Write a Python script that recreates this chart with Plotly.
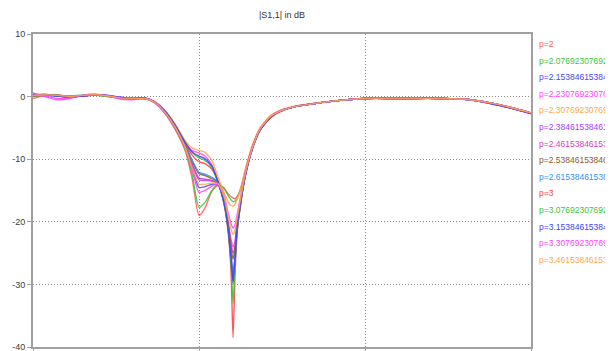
import plotly.graph_objects as go

# x positions (data units, 0..3)
X = [0.0, 0.072, 0.145, 0.223, 0.295, 0.373, 0.452, 0.524, 0.602, 0.675,
     0.735, 0.795, 0.855, 0.916, 0.958,
     1.0, 1.036, 1.078, 1.114, 1.151, 1.175, 1.193, 1.205, 1.217, 1.229,
     1.247, 1.271, 1.295, 1.325, 1.367, 1.428, 1.488, 1.578, 1.699, 1.849,
     2.0, 2.211, 2.452, 2.633, 2.753, 2.873, 3.0]

y_ticks = [10, 0, -10, -20, -30, -40]
y_tick_labels = ["10", "0", "-10", "-20", "-30", "-40"]

labels = ["p=2", "p=2.07692307692308", "p=2.15384615384615", "p=2.23076923076923",
          "p=2.30769230769231", "p=2.38461538461538", "p=2.46153846153846",
          "p=2.53846153846154", "p=2.61538461538462", "p=3", "p=3.07692307692308",
          "p=3.15384615384615", "p=3.30769230769231", "p=3.46153846153846"]

colors = ["#ff5a5a", "#3cc43c", "#4646ff", "#ff40ff", "#ffa84a", "#a040ff",
          "#d83cc0", "#8b5a2b", "#3092ff", "#ff3c3c", "#3cc43c", "#4040ff",
          "#ff40ff", "#ffa84a"]

s0 = [-0.3, 0.2, 0.3, 0.0, 0.1, 0.3, 0.1, -0.2, -0.3, -0.3, -1.0, -2.7, -5.2, -8.6, -13.0,
      -19.0, -17.8, -15.1, -14.2, -14.7, -15.5, -16.0, -16.2, -16.3, -16.0,
      -15.0, -12.6, -10.2, -7.7, -5.2, -3.3, -2.4, -1.6, -1.1, -0.6, -0.3, -0.3, -0.3, -0.5, -1.0, -1.8, -2.7]
s1 = [0.1, 0.3, 0.2, 0.1, 0.2, 0.3, 0.0, -0.2, -0.4, -0.3, -1.0, -2.6, -5.0, -8.3, -12.3,
      -17.7, -16.9, -15.0, -14.0, -14.6, -15.8, -16.5, -16.8, -16.7, -16.2,
      -15.1, -12.9, -10.6, -8.0, -5.4, -3.4, -2.4, -1.6, -1.1, -0.6, -0.3, -0.3, -0.3, -0.5, -1.0, -1.7, -2.6]
s2 = [0.3, 0.4, 0.1, -0.1, 0.1, 0.3, 0.2, -0.1, -0.3, -0.2, -0.9, -2.5, -4.8, -7.9, -11.2,
      -14.5, -14.4, -14.0, -14.1, -16.8, -20.5, -25.0, -29.0, -25.5, -21.0,
      -17.6, -13.5, -10.6, -7.9, -5.3, -3.3, -2.3, -1.6, -1.1, -0.6, -0.3, -0.3, -0.3, -0.5, -1.1, -1.8, -2.7]
s3 = [0.6, 0.0, -0.5, -0.3, 0.2, 0.4, 0.1, -0.4, -0.5, -0.3, -0.8, -2.3, -4.5, -7.3, -8.6,
      -9.0, -9.5, -10.9, -13.5, -16.9, -20.0, -22.8, -24.0, -23.0, -20.0,
      -17.2, -13.4, -10.5, -7.8, -5.2, -3.2, -2.3, -1.6, -1.1, -0.6, -0.3, -0.3, -0.3, -0.5, -1.0, -1.7, -2.6]
s4 = [0.2, 0.3, 0.2, 0.0, 0.2, 0.3, 0.1, -0.2, -0.3, -0.3, -0.8, -2.2, -4.3, -7.0, -8.2,
      -8.6, -8.9, -10.2, -12.8, -15.3, -16.8, -17.4, -17.5, -17.2, -16.5,
      -15.2, -12.5, -10.0, -7.5, -5.0, -3.1, -2.2, -1.5, -1.0, -0.6, -0.3, -0.3, -0.3, -0.5, -1.0, -1.7, -2.6]
s5 = [0.2, 0.2, 0.1, 0.0, 0.2, 0.3, 0.1, -0.2, -0.3, -0.3, -0.9, -2.5, -4.8, -7.8, -10.7,
      -13.0, -13.2, -13.4, -13.9, -16.8, -21.0, -26.5, -30.0, -26.0, -21.5,
      -17.8, -13.7, -10.8, -8.0, -5.4, -3.4, -2.4, -1.6, -1.1, -0.6, -0.3, -0.3, -0.3, -0.5, -1.0, -1.8, -2.7]
s6 = [0.1, 0.3, 0.2, 0.0, 0.1, 0.3, 0.1, -0.2, -0.3, -0.3, -0.9, -2.5, -4.8, -7.9, -10.9,
      -13.3, -13.4, -13.5, -13.8, -16.5, -20.0, -23.5, -25.0, -23.8, -20.5,
      -17.4, -13.4, -10.6, -7.9, -5.3, -3.3, -2.3, -1.6, -1.1, -0.6, -0.3, -0.3, -0.3, -0.5, -1.0, -1.7, -2.6]
s7 = [0.2, 0.2, 0.2, 0.0, 0.1, 0.2, 0.1, -0.2, -0.3, -0.3, -0.9, -2.4, -4.7, -7.7, -10.3,
      -12.3, -12.6, -13.1, -13.7, -16.4, -20.3, -24.0, -26.0, -24.2, -20.8,
      -17.5, -13.5, -10.6, -7.9, -5.3, -3.3, -2.3, -1.6, -1.1, -0.6, -0.3, -0.3, -0.3, -0.5, -1.0, -1.7, -2.6]
s8 = [0.2, 0.3, 0.1, 0.0, 0.2, 0.3, 0.1, -0.2, -0.3, -0.3, -0.9, -2.4, -4.7, -7.6, -10.1,
      -12.1, -12.4, -12.9, -13.6, -16.5, -20.8, -25.5, -28.0, -25.8, -21.3,
      -17.7, -13.7, -10.7, -8.0, -5.3, -3.3, -2.3, -1.6, -1.1, -0.6, -0.3, -0.3, -0.3, -0.5, -1.0, -1.7, -2.6]
s9 = [0.0, 0.2, 0.2, 0.0, 0.1, 0.3, 0.1, -0.2, -0.3, -0.3, -0.9, -2.4, -4.6, -7.5, -9.3,
      -10.4, -10.7, -11.6, -13.6, -17.2, -21.5, -28.0, -38.5, -28.5, -22.0,
      -17.9, -13.8, -10.8, -8.0, -5.4, -3.4, -2.4, -1.6, -1.1, -0.6, -0.3, -0.3, -0.3, -0.5, -1.0, -1.8, -2.7]
s10 = [0.1, 0.2, 0.2, 0.1, 0.2, 0.3, 0.0, -0.2, -0.3, -0.3, -0.9, -2.3, -4.5, -7.3, -8.9,
       -9.8, -10.2, -11.3, -13.6, -17.0, -21.0, -26.5, -33.0, -27.0, -21.5,
       -17.7, -13.6, -10.7, -8.0, -5.3, -3.3, -2.3, -1.6, -1.1, -0.6, -0.3, -0.3, -0.3, -0.5, -1.0, -1.7, -2.6]
s11 = [0.3, 0.3, 0.1, -0.1, 0.1, 0.3, 0.2, -0.1, -0.3, -0.2, -0.9, -2.3, -4.5, -7.3, -8.8,
       -9.5, -9.9, -11.1, -13.6, -17.0, -21.0, -25.8, -29.5, -26.0, -21.2,
       -17.6, -13.6, -10.7, -8.0, -5.3, -3.3, -2.3, -1.6, -1.1, -0.6, -0.3, -0.3, -0.3, -0.5, -1.1, -1.8, -2.7]
s12 = [0.5, 0.1, -0.3, -0.2, 0.2, 0.4, 0.1, -0.3, -0.4, -0.3, -1.0, -2.6, -4.9, -8.1, -11.6,
       -15.3, -15.0, -14.3, -14.0, -15.8, -18.5, -20.3, -21.0, -20.5, -19.0,
       -16.5, -13.1, -10.4, -7.8, -5.2, -3.2, -2.3, -1.6, -1.1, -0.6, -0.3, -0.3, -0.3, -0.5, -1.0, -1.7, -2.6]
s13 = [0.2, 0.3, 0.2, 0.0, 0.2, 0.3, 0.1, -0.2, -0.3, -0.3, -0.9, -2.5, -4.8, -8.0, -11.3,
       -14.0, -14.0, -13.8, -13.9, -16.0, -19.0, -21.2, -22.0, -21.3, -19.5,
       -16.8, -13.2, -10.5, -7.9, -5.2, -3.2, -2.3, -1.6, -1.1, -0.6, -0.3, -0.3, -0.3, -0.5, -1.0, -1.7, -2.6]

series = [s0, s1, s2, s3, s4, s5, s6, s7, s8, s9, s10, s11, s12, s13]

# page has an 8px body margin: compensate so the plot lands at page px 33..531 x 34..347
OFF = 8
W, H = 613 - OFF, 351 - OFF
L, R, T, B = 33 - OFF, 531 - OFF, 34 - OFF, 347 - OFF

fig = go.Figure()
for lab, col, ys in zip(labels, colors, series):
    fig.add_trace(go.Scatter(x=X, y=ys, mode="lines", name=lab,
                             line=dict(color=col, width=1.4, shape="spline", smoothing=0.6),
                             opacity=0.85, hoverinfo="skip", showlegend=False))

# legend-like colored labels on the right
for i, (lab, col) in enumerate(zip(labels, colors)):
    py = 44 + i * 16.6 - OFF
    fig.add_annotation(text=lab, xref="paper", yref="paper",
                       x=(537 - OFF - L) / (R - L), y=(B - py) / (B - T),
                       xanchor="left", yanchor="middle", showarrow=False,
                       font=dict(size=8.5, color=col, family="Liberation Sans"))

axis_common = dict(showline=True, mirror=True, linecolor="#a0a0a0", linewidth=2,
                   showgrid=True, gridcolor="#8c8c8c", gridwidth=1, griddash="1px,2px",
                   zeroline=False, ticks="outside", ticklen=4, tickcolor="#a0a0a0",
                   automargin=False, ticklabeloverflow="allow")

fig.update_layout(
    width=W, height=H,
    margin=dict(l=L, r=W - R, t=T, b=H - B, autoexpand=False),
    paper_bgcolor="white", plot_bgcolor="white",
    font=dict(family="Liberation Sans", size=9, color="#444"),
    title=dict(text="|S1,1| in dB", x=0.5, xref="paper", xanchor="center",
               y=1 - (15 - OFF) / H, yanchor="middle", font=dict(size=9, color="#333")),
    xaxis=dict(range=[0, 3], dtick=1, showticklabels=False, **axis_common),
    yaxis=dict(range=[-40, 10], tickmode="array", tickvals=y_ticks, ticktext=y_tick_labels,
               tickfont=dict(size=9, color="#3c3c3c"), **axis_common),
)

fig.write_html("out.html")
